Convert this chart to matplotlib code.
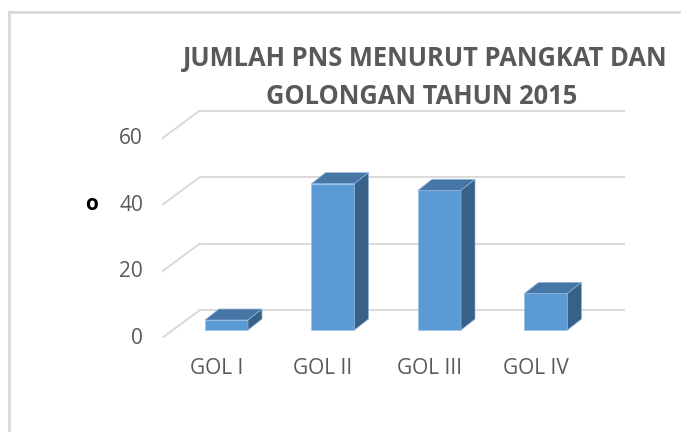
import numpy as np
import matplotlib
matplotlib.use("Agg")
import matplotlib.pyplot as plt
from matplotlib.patches import Polygon
from matplotlib.lines import Line2D
from matplotlib.transforms import ScaledTranslation

categories = ["GOL I", "GOL II", "GOL III", "GOL IV"]
values = [3, 44, 42, 11]
yticks = [0, 20, 40, 60]
title_lines = ["JUMLAH PNS MENURUT PANGKAT DAN", "GOLONGAN TAHUN 2015"]

W, H = 681, 432
DPI = 100
plt.rcParams["font.family"] = ["Open Sans", "DejaVu Sans"]
fig = plt.figure(figsize=(W / DPI, H / DPI), dpi=DPI)

# axes area in pixels (front floor edge to right end of gridlines)
left_px, right_px, bot_px, top_px = 162, 625, 338, 100
ax = fig.add_axes([left_px / W, 1 - bot_px / H, (right_px - left_px) / W, (bot_px - top_px) / H])
ax.patch.set_alpha(0)
for s in ax.spines.values():
    s.set_visible(False)

step = 106.5      # px per category
ppu = 3.325       # px per unit value
x = np.arange(len(categories))
ax.set_xlim((left_px - 226.5) / step, (right_px - 226.5) / step)
ax.set_ylim(-(bot_px - 330) / ppu, (330 - top_px) / ppu)
xl = ax.get_xlim()

def shift(dx, dy):
    return ax.transData + ScaledTranslation(dx / DPI, dy / DPI, fig.dpi_scale_trans)

# gridlines: floor diagonal then back wall line
grid_c = "#d9d9d9"
for v in yticks:
    ax.plot([xl[0], xl[0] + 38 / step], [v - 8 / ppu, v + 20 / ppu], color=grid_c, lw=1.4, zorder=1)
    ax.plot([xl[0] + 38 / step, xl[1]], [v + 20 / ppu, v + 20 / ppu], color=grid_c, lw=1.4, zorder=1)

# 3d columns
bw = 43 / step
ddx, ddy = 14 / step, 11 / ppu
front_c, top_c, side_c = "#5b9bd5", "#4676a6", "#376189"
ax.bar(x, values, width=bw, color=front_c, edgecolor="#9dc0e6", linewidth=0.5, zorder=3)
for xi, v in zip(x, values):
    l, r = xi - bw / 2, xi + bw / 2
    ax.add_patch(Polygon([[l, v], [r, v], [r + ddx, v + ddy], [l + ddx, v + ddy]],
                         closed=True, facecolor=top_c, edgecolor="#8fb3dc", lw=0.5, zorder=3))
    ax.add_patch(Polygon([[r, 0], [r + ddx, ddy], [r + ddx, v + ddy], [r, v]],
                         closed=True, facecolor=side_c, edgecolor="#8fb3dc", lw=0.5, zorder=3))

ax.set_xticks([])
ax.set_yticks([])

# tick labels
tc = "#595959"
for v in yticks:
    ax.text(xl[0], v - 8 / ppu, str(v), ha="right", va="center", fontsize=15, color=tc,
            transform=shift(-19, 0))
for xi, c in zip(x, categories):
    ax.text(xi, 0, c, ha="center", va="center", fontsize=15, color=tc, transform=shift(-10, -39))

fig.text(425 / W, 1 - 58 / H, title_lines[0], ha="center", va="center",
         fontsize=18.4, fontweight="bold", color=tc)
fig.text(422 / W, 1 - 97 / H, title_lines[1], ha="center", va="center",
         fontsize=18.4, fontweight="bold", color=tc)
fig.text(92 / W, 1 - 205 / H, "o", ha="center", va="center", fontsize=15, fontweight="bold", color="black")

# chart border
fig.add_artist(Line2D([9 / W, 1], [1 - 12 / H, 1 - 12 / H], color="#d9d9d9", lw=2, transform=fig.transFigure))
fig.add_artist(Line2D([9 / W, 9 / W], [0, 1 - 12 / H], color="#d9d9d9", lw=2, transform=fig.transFigure))

fig.savefig("out.png", dpi=DPI)
